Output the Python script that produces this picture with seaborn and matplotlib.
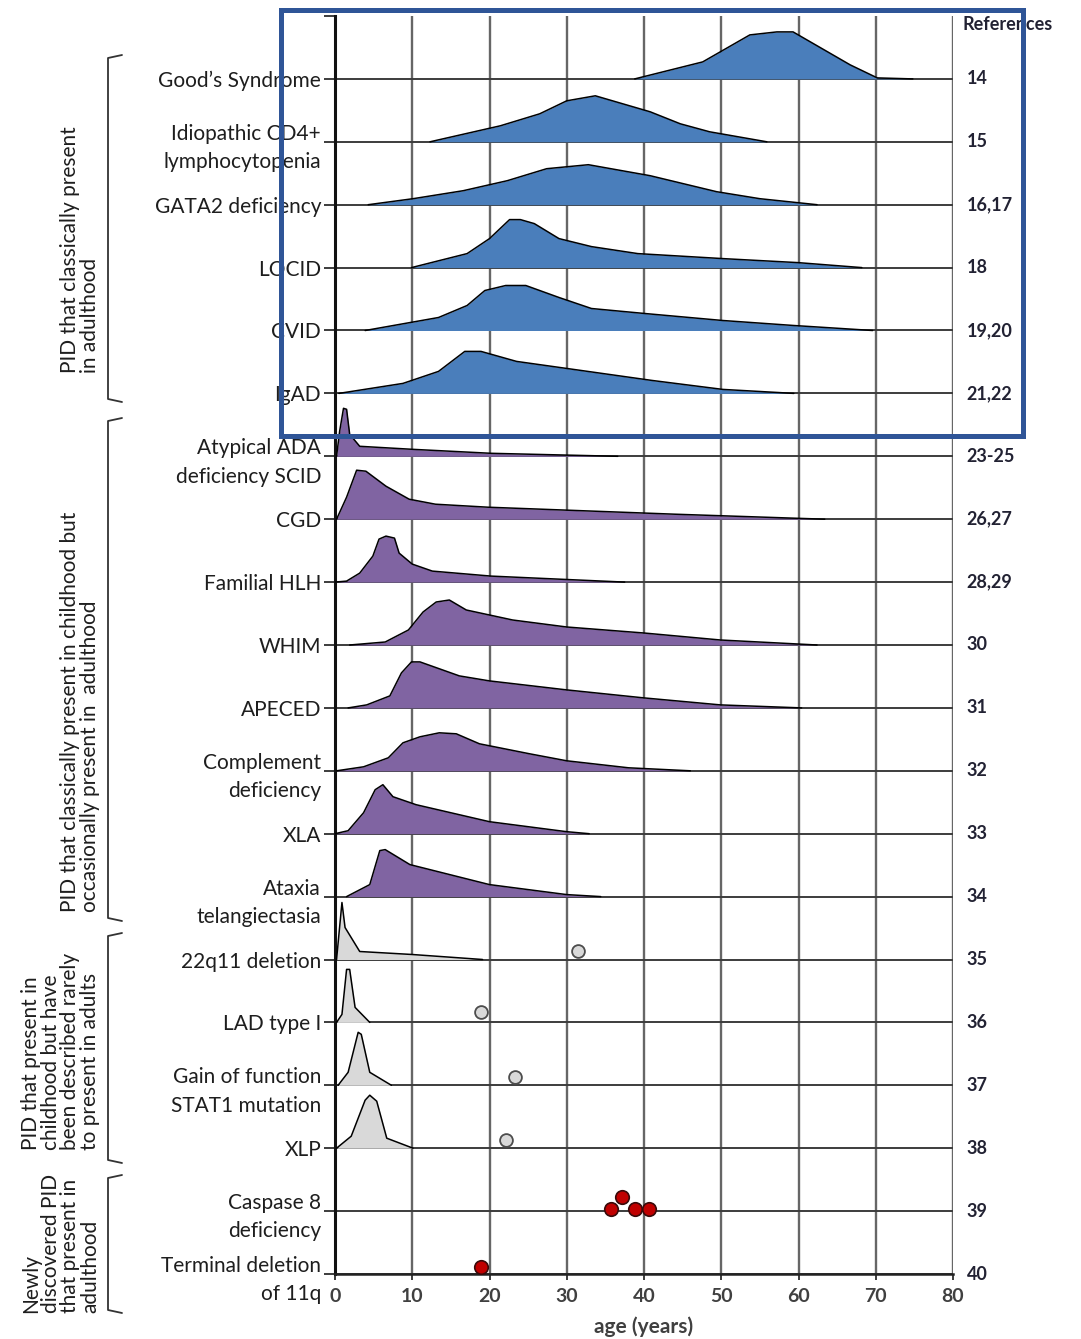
import numpy as np
import pandas as pd
import matplotlib
matplotlib.use("Agg")
import matplotlib.pyplot as plt
from matplotlib.patches import Rectangle
from matplotlib.lines import Line2D
import matplotlib.transforms as mtransforms
import seaborn as sns

# ---------------- data ----------------
conditions = ["Good\u2019s Syndrome", "Idiopathic CD4+\nlymphocytopenia", "GATA2 deficiency",
              "LOCID", "CVID", "IgAD", "Atypical ADA\ndeficiency SCID", "CGD", "Familial HLH",
              "WHIM", "APECED", "Complement\ndeficiency", "XLA", "Ataxia\ntelangiectasia",
              "22q11 deletion", "LAD type I", "Gain of function\nSTAT1 mutation", "XLP",
              "Caspase 8\ndeficiency", "Terminal deletion\nof 11q"]
references = ["14", "15", "16,17", "18", "19,20", "21,22", "23-25", "26,27", "28,29", "30",
              "31", "32", "33", "34", "35", "36", "37", "38", "39", "40"]
groups = [0]*6 + [1]*8 + [2]*4 + [3]*2
group_titles = ["PID that classically present\nin adulthood",
                "PID that classically present in childhood but\noccasionally present in  adulthood",
                "PID that present in\nchildhood but have\nbeen described rarely\nto present in adults",
                "Newly\ndiscovered PID\nthat present in\nadulthood"]

# age-distribution profiles (age in years, relative frequency)
goods_age = [38.8, 47.6, 53.7, 57.2, 59.3, 66.7, 70.2, 74.8]
goods_h   = [0, 17, 44, 47, 47, 14, 1, 0]
cd4_age = [12.3, 21.4, 26.5, 30.0, 33.7, 40.8, 44.7, 48.5, 55.9]
cd4_h   = [0, 16, 28, 41, 46, 30, 18, 10, 0]
gata2_age = [4.3, 10.1, 16.6, 22.3, 27.4, 32.8, 40.8, 49.4, 55.0, 62.4]
gata2_h   = [0, 6, 14, 24, 36, 40, 29, 13, 6, 0]
locid_age = [9.9, 17.1, 20.0, 22.6, 24.0, 25.8, 29.0, 33.2, 39.2, 50.2, 59.9, 68.2]
locid_h   = [0, 14, 29, 48, 48, 44, 29, 21, 14, 9, 5, 0]
cvid_age = [3.9, 13.4, 17.1, 19.4, 22.1, 24.7, 29.0, 33.2, 40.1, 50.2, 59.4, 69.6]
cvid_h   = [0, 13, 25, 40, 45, 45, 33, 22, 17, 10, 5, 0]
igad_age = [0.5, 8.8, 13.4, 16.8, 18.9, 23.5, 31.8, 41.0, 50.2, 59.4]
igad_h   = [0, 10, 22, 42, 42, 32, 23, 13, 4, 0]
ada_age = [0.2, 0.6, 1.1, 1.5, 1.9, 3.2, 10.0, 20.2, 36.6]
ada_h   = [0, 25, 48, 47, 22, 10, 7, 3, 0]
cgd_age = [0.2, 1.5, 2.8, 4.0, 6.6, 9.6, 13.0, 19.8, 44.0, 63.4]
cgd_h   = [0, 22, 49, 48, 33, 20, 15, 12, 5, 0]
hlh_age = [0.0, 1.5, 3.2, 4.9, 5.7, 6.6, 7.7, 8.3, 10.0, 12.6, 20.2, 37.5]
hlh_h   = [0, 1, 9, 26, 43, 46, 44, 29, 18, 11, 6, 0]
whim_age = [1.9, 6.5, 9.5, 11.4, 13.1, 14.8, 17.0, 23.0, 30.0, 40.0, 49.9, 62.4]
whim_h   = [0, 3, 15, 33, 43, 45, 35, 25, 18, 12, 5, 0]
apeced_age = [1.7, 4.1, 7.1, 8.6, 9.9, 11.0, 16.1, 20.0, 30.0, 40.0, 49.9, 60.4]
apeced_h   = [0, 3, 12, 35, 46, 46, 32, 27, 18, 10, 3, 0]
compl_age = [0.2, 3.7, 6.9, 8.8, 11.0, 13.5, 15.7, 18.7, 25.2, 30.0, 38.0, 46.0]
compl_h   = [0, 4, 13, 28, 34, 38, 37, 27, 17, 10, 3, 0]
xla_age = [0.0, 1.7, 3.7, 5.2, 6.2, 7.5, 10.5, 20.0, 30.0, 32.9]
xla_h   = [0, 3, 21, 44, 49, 37, 29, 12, 2, 0]
at_age = [1.5, 4.5, 5.8, 6.5, 9.7, 20.0, 30.0, 34.4]
at_h   = [0, 12, 46, 47, 32, 12, 2, 0]
q22_age = [0.2, 0.9, 1.3, 3.2, 10.0, 19.1]
q22_h   = [0, 57, 32, 8, 5, 0]
lad_age = [0.2, 0.9, 1.5, 1.9, 2.6, 4.5]
lad_h   = [0, 8, 53, 53, 15, 0]
stat1_age = [0.4, 1.7, 3.0, 3.4, 4.5, 7.3]
stat1_h   = [0, 13, 53, 51, 13, 0]
xlp_age = [0.2, 2.1, 3.9, 4.5, 5.4, 6.7, 10.1]
xlp_h   = [0, 12, 48, 53, 47, 10, 0]

profile_ages = [goods_age, cd4_age, gata2_age, locid_age, cvid_age, igad_age, ada_age, cgd_age,
                hlh_age, whim_age, apeced_age, compl_age, xla_age, at_age, q22_age, lad_age,
                stat1_age, xlp_age]
profile_heights = [goods_h, cd4_h, gata2_h, locid_h, cvid_h, igad_h, ada_h, cgd_h,
                   hlh_h, whim_h, apeced_h, compl_h, xla_h, at_h, q22_h, lad_h,
                   stat1_h, xlp_h]

# adult-onset case reports (row index, age, relative height)
rare_rows = [14, 15, 16, 17]
rare_ages = [31.4, 18.9, 23.3, 22.1]
rare_h    = [8, 10, 8, 8]
new_rows = [18, 18, 18, 18, 19]
new_ages = [35.7, 37.2, 38.8, 40.6, 18.9]
new_h    = [2, 14, 2, 2, 7]

xticks = [0, 10, 20, 30, 40, 50, 60, 70, 80]

# ---------------- style ----------------
sns.set_theme(style="white")
plt.rcParams['font.family'] = ['Lato', 'DejaVu Sans']
ROW_PX = 62.9
fill_colors = {0: "#4A7EBB", 1: "#8064A2", 2: "#D9D9D9"}
txt = "#1E1E1E"

W, H = 1081, 1339
fig = plt.figure(figsize=(W/100, H/100), dpi=100)
ax = fig.add_axes([335/W, (H-1274)/H, 618/W, 1258/H])

# vertical grid
for xv in xticks[1:]:
    ax.axvline(xv, color="#666666", lw=1.7, zorder=0)
# baselines
n = len(conditions)
ax.hlines(range(n), 0, 80, color="#3C3C3C", lw=1.4, zorder=1)

# ridges
rows_long = []
for i, (ages, hs) in enumerate(zip(profile_ages, profile_heights)):
    a = np.array(ages, float)
    top = i - np.array(hs, float)/ROW_PX
    ax.fill_between(a, i, top, color=fill_colors[groups[i]], lw=0, zorder=2)
    for aa, tt in zip(a, top):
        rows_long.append({"condition": conditions[i], "age": aa, "y": tt})
df = pd.DataFrame(rows_long)
sns.lineplot(data=df, x="age", y="y", units="condition", estimator=None, sort=False,
             color="black", lw=1.1, ax=ax, zorder=3, legend=False)

# case-report dots
rare_df = pd.DataFrame({"age": rare_ages,
                        "y": [r - h/ROW_PX for r, h in zip(rare_rows, rare_h)]})
sns.scatterplot(data=rare_df, x="age", y="y", s=85, color="#D9D9D9", edgecolor="#4D4D4D",
                linewidth=1.3, ax=ax, zorder=4)
new_df = pd.DataFrame({"age": new_ages,
                       "y": [r - h/ROW_PX for r, h in zip(new_rows, new_h)]})
sns.scatterplot(data=new_df, x="age", y="y", s=95, color="#C00000", edgecolor="#3A0A0A",
                linewidth=1.2, ax=ax, zorder=4)

ax.set_xlim(0, 80)
ax.set_ylim(n - 1, -1)
ax.set_xticks(xticks)
ax.set_xticklabels([str(x) for x in xticks], fontsize=14, fontweight="bold", color="#404040")
ax.set_yticks(range(-1, n))
ax.set_yticklabels([""] + conditions, fontsize=15, color=txt, linespacing=1.52)
ax.tick_params(axis="y", which="major", direction="out", length=8, width=1.4, color="#3C3C3C",
               pad=2, left=True)
ax.tick_params(axis="x", which="major", direction="out", length=4, width=1.4, color="#3C3C3C",
               pad=6, bottom=True)
ax.set_xlabel("age (years)", fontsize=15, fontweight="bold", color="#404040", labelpad=8)
ax.set_ylabel("")
for s in ["top", "right"]:
    ax.spines[s].set_visible(False)
ax.spines["left"].set_color("#111111")
ax.spines["left"].set_linewidth(2.2)
ax.spines["bottom"].set_color("#222222")
ax.spines["bottom"].set_linewidth(1.8)
ax.set_facecolor("white")

# references column
tr = mtransforms.blended_transform_factory(ax.transAxes, ax.transData)
for i, ref in enumerate(references):
    ax.text(1.022, i, ref, transform=tr, ha="left", va="center", fontsize=13,
            fontweight="bold", color="#222233")
fig.text(962/W, 1 - 25/H, "References", ha="left", va="center", fontsize=13,
         fontweight="bold", color="#222233")

# group brackets and titles
brackets = [(55, 402), (418, 921), (933, 1163), (1175, 1313)]
title_bottoms = [373, 912, 1150, 1313]
for (t, b), tb, title in zip(brackets, title_bottoms, group_titles):
    xs = [122/W, 108/W, 108/W, 122/W]
    ys = [1 - t/H, 1 - (t+3)/H, 1 - (b-3)/H, 1 - b/H]
    fig.add_artist(Line2D(xs, ys, transform=fig.transFigure, color="#333333", lw=1.3))
    fig.text(100/W, 1 - tb/H, title, rotation=90, ha="right", va="bottom",
             multialignment="left", fontsize=15, color=txt, linespacing=0.98)

# highlight box
fig.add_artist(Rectangle((281/W, 1 - 436/H), (1023-281)/W, (436-10)/H,
                         transform=fig.transFigure, fill=False, ec="#2F5597", lw=3.6,
                         zorder=20))

fig.savefig("out.png", dpi=100, facecolor="white")
